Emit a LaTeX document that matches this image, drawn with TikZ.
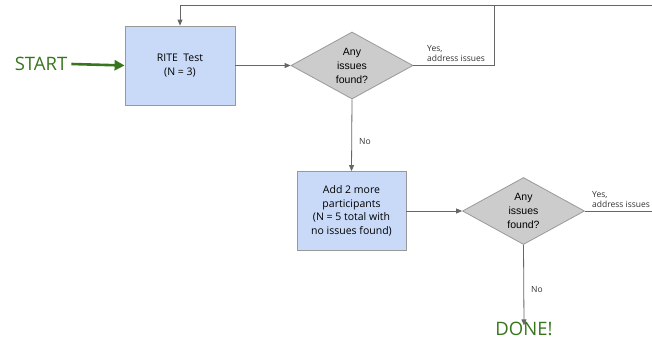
\documentclass[tikz,border=0pt]{standalone}
\usepackage{fontspec}
\setmainfont{Open Sans}
\newfontfamily\arialfont{Liberation Sans}
\usetikzlibrary{arrows.meta,shapes.geometric}
\definecolor{boxblue}{HTML}{C9DAF8}
\definecolor{boxedge}{HTML}{999999}
\definecolor{diagray}{HTML}{CCCCCC}
\definecolor{linegray}{HTML}{666666}
\definecolor{okgreen}{HTML}{38761D}
\begin{document}
\begin{tikzpicture}[x=1pt,y=-1pt,
  stepbox/.style={draw=boxedge, line width=0.8pt, fill=boxblue, minimum width=110pt, minimum height=79pt, inner sep=0pt, align=center, font=\fontsize{10.5}{13.5}\selectfont},
  decision/.style={diamond, draw=boxedge, line width=0.8pt, fill=diagray, minimum width=122pt, minimum height=67pt, inner sep=0pt},
  dtext/.style={font=\arialfont\fontsize{10.5}{14}\selectfont, align=center, inner sep=0pt},
  conn/.style={draw=linegray, line width=0.8pt, -{Triangle[length=6pt,width=5pt]}},
  plain/.style={draw=linegray, line width=0.8pt},
  lbl/.style={font=\fontsize{8.5}{10}\selectfont, align=left, inner sep=0pt, text=black!80},
  big/.style={font=\fontsize{18.5}{20}\selectfont, text=okgreen, inner sep=0pt}
]
\useasboundingbox (0,0) rectangle (652,338);
\node[big] (start) at (41,64) {START};
\node[stepbox] (rite) at (180,65.5) {RITE\ \ Test\\(N = 3)};
\node[decision] (d1) at (352,65.5) {};
\node[dtext] at (352,65.5) {Any\\issues\\found?};
\node[stepbox, minimum width=109pt] (add) at (351.5,211) {Add 2 more\\participants\\(N = 5 total with\\no issues found)};
\node[decision] (d2) at (523.5,211) {};
\node[dtext] at (523.5,211) {Any\\issues\\found?};
\node[big, anchor=base] (done) at (524,335) {DONE!};
\coordinate (c1) at (494,65.5);
\coordinate (c2) at (494,5);
\coordinate (c3) at (180,5);
\coordinate (cr) at (652,5);
\coordinate (e2) at (652,211);
% start arrow
\draw[okgreen, line width=2.6pt, -{Triangle[length=10pt,width=10pt]}] (start.east) ++(4,0) -- (rite.west);
% main flow
\draw[conn] (rite.east) -- (d1.west);
\draw[plain] (d1.east) -- (c1) -- (c2);
\draw[conn] (cr) -- (c3) -- (rite.north);
\node[lbl, anchor=south west] at (427,62) {Yes,\\address issues};
\draw[conn] (d1.south) -- (add.north) node[pos=0.59, right=7pt, lbl] {No};
\draw[conn] (add.east) -- (d2.west);
\draw[plain] (d2.east) -- (e2);
\node[lbl, anchor=south west] at (592,208) {Yes,\\address issues};
\draw[conn] (d2.south) -- ([yshift=-4pt]done.north) node[pos=0.55, right=7pt, lbl] {No};
\end{tikzpicture}
\end{document}
